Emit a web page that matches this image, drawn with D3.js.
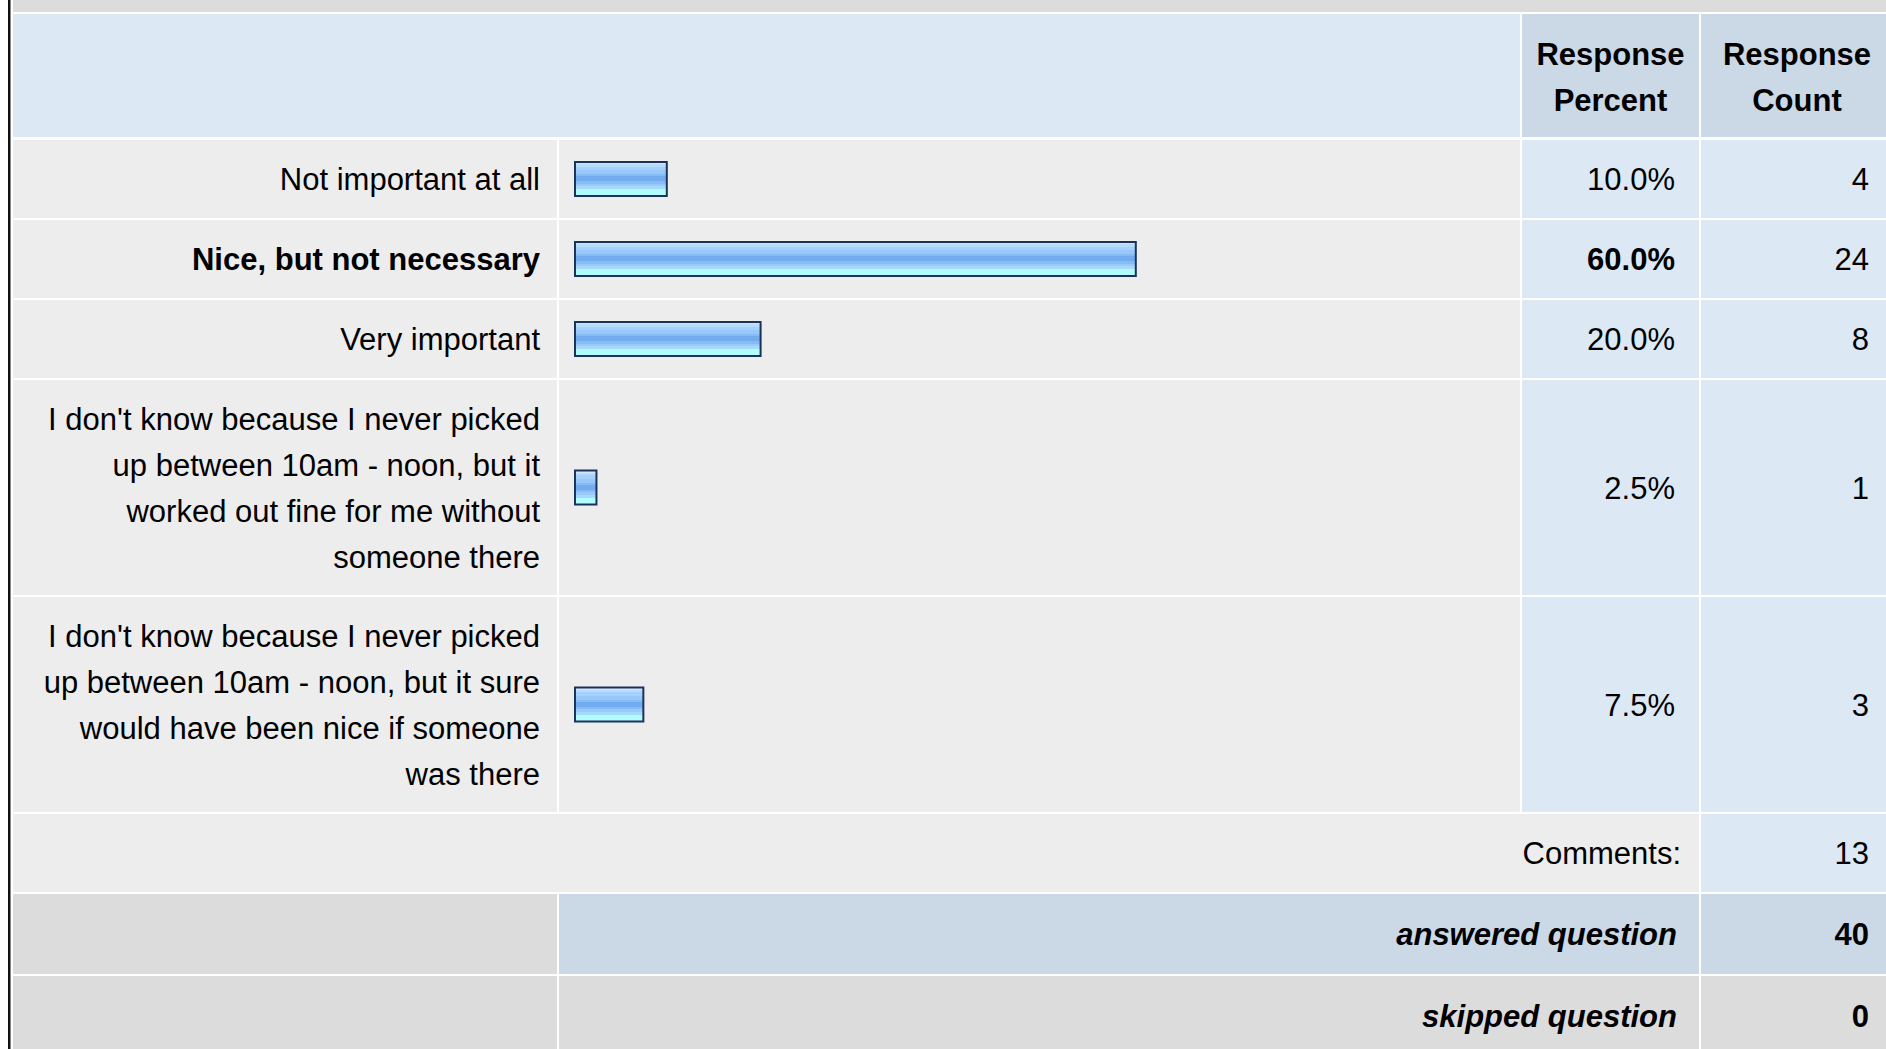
<!DOCTYPE html>
<html>
<head>
<meta charset="utf-8">
<script src="https://cdn.jsdelivr.net/npm/d3@7"></script>
<style>
  html, body { margin: 0; padding: 0; background: #fff; overflow: hidden; }
  text { font-family: "Liberation Sans", Arial, Helvetica, sans-serif; fill: #000; }
</style>
</head>
<body>
<svg id="chart" width="1886" height="1049"></svg>
<script>
// answer options, one entry per row, split into the lines shown in the table
const categories = [
  ["Not important at all"],
  ["Nice, but not necessary"],
  ["Very important"],
  ["I don't know because I never picked", "up between 10am - noon, but it", "worked out fine for me without", "someone there"],
  ["I don't know because I never picked", "up between 10am - noon, but it sure", "would have been nice if someone", "was there"]
];
const percents = [10.0, 60.0, 20.0, 2.5, 7.5];
const counts = [4, 24, 8, 1, 3];
const headerLabels = [["Response", "Percent"], ["Response", "Count"]];
const footerLabels = ["Comments:", "answered question", "skipped question"];
const footerValues = [13, 40, 0];

const width = 1886;
const height = 1049;
const lineHeight = 46;
const fontSize = 31;

const cols = {
  label: [13, 557],
  bar: [559, 1520],
  percent: [1522, 1699],
  count: [1701, 1893]
};

const colors = {
  band: "#dcdcdc",
  head: "#dde8f5",
  headDark: "#cbd8e6",
  cell: "#ededed",
  value: "#dde8f5",
  foot: "#dcdcdc"
};

const svg = d3.select("#chart");

// gradient for the glossy bars
const defs = svg.append("defs");
const grad = defs.append("linearGradient")
  .attr("id", "barGrad")
  .attr("x1", 0).attr("y1", 0).attr("x2", 0).attr("y2", 1);
[
  [0, "#d2e6fc"], [0.06, "#d2e6fc"], [0.06, "#b9dafc"], [0.14, "#b9dafc"],
  [0.14, "#a5d0fb"], [0.24, "#a5d0fb"], [0.24, "#97c8f9"], [0.36, "#97c8f9"],
  [0.36, "#86bbf5"], [0.42, "#86bbf5"], [0.42, "#72acef"], [0.56, "#72acef"],
  [0.56, "#86bcf5"], [0.64, "#86bcf5"], [0.64, "#98cbf9"], [0.72, "#98cbf9"],
  [0.72, "#a6dafc"], [0.8, "#a6dafc"], [0.8, "#aefbff"], [1, "#b4fdff"]
].forEach(([o, c]) => grad.append("stop").attr("offset", o).attr("stop-color", c));

// left border and top band
svg.append("rect").attr("x", 8).attr("y", 0).attr("width", 2).attr("height", height).attr("fill", "#111");
svg.append("rect").attr("x", 10).attr("y", 0).attr("width", 1).attr("height", height).attr("fill", "#888");
svg.append("rect").attr("x", 13).attr("y", 0).attr("width", width - 13).attr("height", 12).attr("fill", colors.band);

// row layout
const gap = 2;
const headerTop = 14;
const headerH = 123;
const rowH = (lines) => lines === 1 ? 78 : lines * lineHeight + 31;

let y = headerTop + headerH + 3;
const rows = categories.map((lines, i) => {
  const h = rowH(lines.length);
  const r = { lines, percent: percents[i], count: counts[i], top: y, h };
  y += h + gap;
  return r;
});
const footTops = [];
footerLabels.forEach((d, i) => {
  const h = i === 0 ? 78 : 80;
  footTops.push({ top: y, h });
  y += h + gap;
});

const maxIdx = d3.maxIndex(percents);

const xBar = d3.scaleLinear()
  .domain([0, 100])
  .range([0, 938]);

const cell = (x0, x1, top, h, fill) =>
  svg.append("rect").attr("x", x0).attr("y", top).attr("width", x1 - x0).attr("height", h).attr("fill", fill);

const lineText = (x, cy, lines, anchor, weight, style) => {
  const first = cy - (lines.length - 1) * lineHeight / 2;
  lines.forEach((s, k) => {
    svg.append("text")
      .attr("x", x)
      .attr("y", first + k * lineHeight + 11)
      .attr("text-anchor", anchor)
      .attr("font-size", fontSize)
      .attr("font-weight", weight || "normal")
      .attr("font-style", style || "normal")
      .text(s);
  });
};

// header
cell(cols.label[0], cols.bar[1], headerTop, headerH, colors.head);
cell(cols.percent[0], cols.percent[1], headerTop, headerH, colors.headDark);
cell(cols.count[0], cols.count[1], headerTop, headerH, colors.headDark);
lineText((cols.percent[0] + cols.percent[1]) / 2, headerTop + headerH / 2 + 1, headerLabels[0], "middle", "bold");
lineText((cols.count[0] + cols.count[1]) / 2, headerTop + headerH / 2 + 1, headerLabels[1], "middle", "bold");

// answer rows
rows.forEach((r, i) => {
  const cy = r.top + r.h / 2;
  const bold = i === maxIdx ? "bold" : "normal";
  cell(cols.label[0], cols.label[1], r.top, r.h, colors.cell);
  cell(cols.bar[0], cols.bar[1], r.top, r.h, colors.cell);
  cell(cols.percent[0], cols.percent[1], r.top, r.h, colors.value);
  cell(cols.count[0], cols.count[1], r.top, r.h, colors.value);

  lineText(cols.label[1] - 17, cy, r.lines, "end", bold);

  const barX = cols.bar[0] + 15;
  svg.append("rect")
    .attr("x", barX + 1)
    .attr("y", cy - 17)
    .attr("width", xBar(r.percent) - 2)
    .attr("height", 34)
    .attr("fill", "url(#barGrad)")
    .attr("stroke", "#1b3358")
    .attr("stroke-width", 2);

  lineText(cols.percent[1] - 24, cy, [d3.format(".1f")(r.percent) + "%"], "end", bold);
  lineText(cols.count[1] - 24, cy, [String(r.count)], "end");
});

// comments / answered / skipped
const f0 = footTops[0];
cell(cols.label[0], cols.percent[1], f0.top, f0.h, colors.cell);
cell(cols.count[0], cols.count[1], f0.top, f0.h, colors.value);
lineText(cols.percent[1] - 18, f0.top + f0.h / 2, [footerLabels[0]], "end");
lineText(cols.count[1] - 24, f0.top + f0.h / 2, [String(footerValues[0])], "end");

[1, 2].forEach(i => {
  const f = footTops[i];
  const fill = i === 1 ? colors.headDark : colors.foot;
  cell(cols.label[0], cols.label[1], f.top, f.h, colors.foot);
  cell(cols.bar[0], cols.percent[1], f.top, f.h, fill);
  cell(cols.count[0], cols.count[1], f.top, f.h, fill);
  lineText(cols.percent[1] - 22, f.top + f.h / 2, [footerLabels[i]], "end", "bold", "italic");
  lineText(cols.count[1] - 24, f.top + f.h / 2, [String(footerValues[i])], "end", "bold");
});
</script>
</body>
</html>
